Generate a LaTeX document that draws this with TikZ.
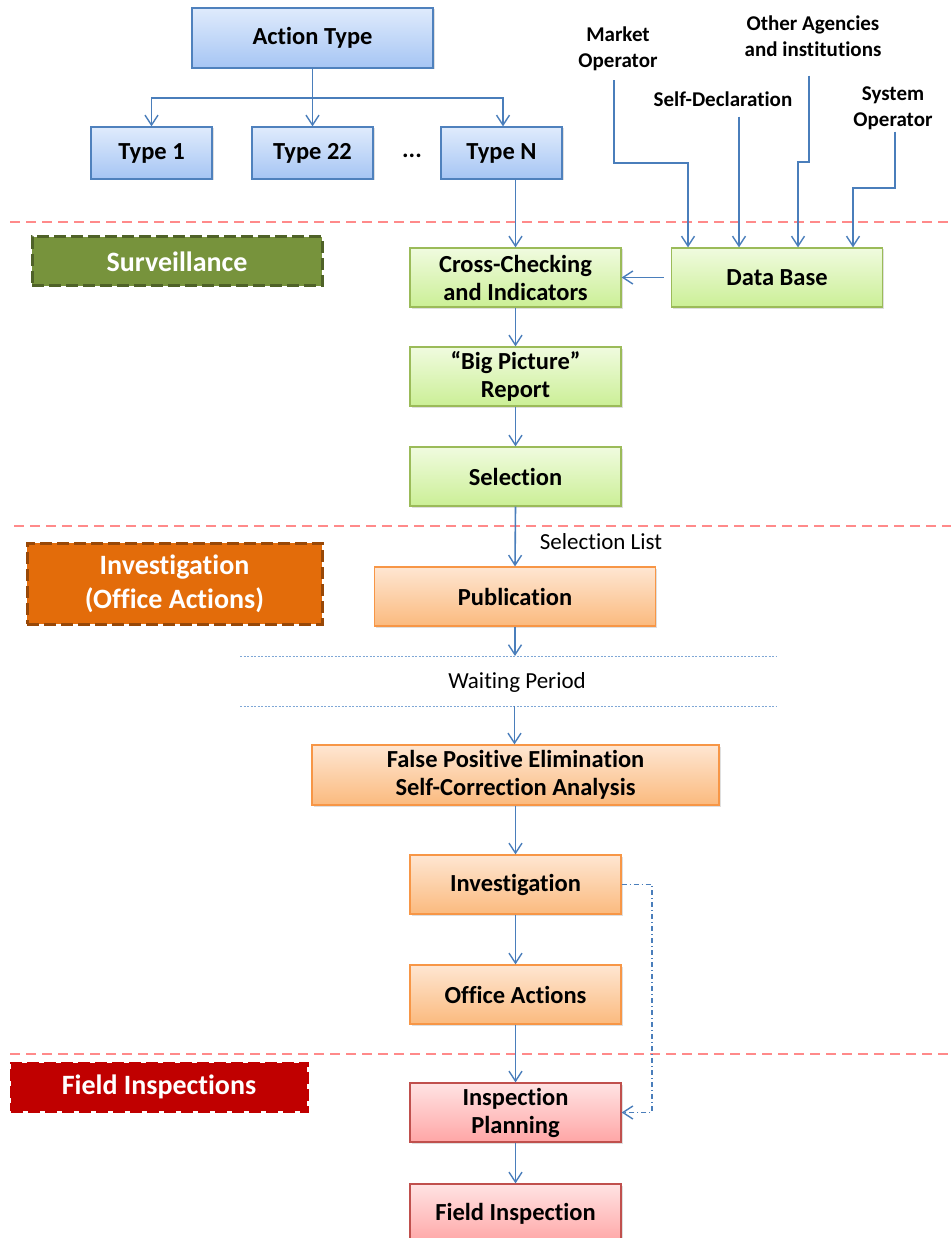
\documentclass[tikz,border=0pt]{standalone}
\usepackage{fontspec}
\setmainfont{Carlito}[Ligatures=NoCommon]
\usetikzlibrary{arrows.meta,shadows}

\definecolor{linkblue}{HTML}{4A7EBB}
\definecolor{sepred}{HTML}{FF8A8A}
\definecolor{waitline}{HTML}{7FA7D6}
\definecolor{blueTop}{HTML}{DFEBFC}
\definecolor{blueBot}{HTML}{A6C5F4}
\definecolor{blueEdge}{HTML}{4F81BD}
\definecolor{greenTop}{HTML}{F0FBDF}
\definecolor{greenBot}{HTML}{CBEF96}
\definecolor{greenEdge}{HTML}{9BBB59}
\definecolor{orangeTop}{HTML}{FEE6D2}
\definecolor{orangeBot}{HTML}{FBBA7E}
\definecolor{orangeEdge}{HTML}{F79646}
\definecolor{pinkTop}{HTML}{FFE3E3}
\definecolor{pinkBot}{HTML}{FFA6A6}
\definecolor{pinkEdge}{HTML}{C0504D}
\definecolor{survFill}{HTML}{77933C}
\definecolor{survEdge}{HTML}{4F6228}
\definecolor{invFill}{HTML}{E36C0A}
\definecolor{invEdge}{HTML}{984807}
\definecolor{fieldFill}{HTML}{C00000}

\tikzset{
  box/.style={draw, line width=1.2pt, align=center, inner sep=2pt,
    font=\fontsize{24.5}{28}\selectfont\bfseries,
    drop shadow={shadow xshift=1.5pt, shadow yshift=-1.5pt, opacity=0.25}},
  bluebox/.style={box, draw=blueEdge, top color=blueTop, bottom color=blueBot},
  greenbox/.style={box, draw=greenEdge, top color=greenTop, bottom color=greenBot,
    minimum width=211pt, minimum height=59pt},
  orangebox/.style={box, draw=orangeEdge, top color=orangeTop, bottom color=orangeBot,
    minimum height=59pt},
  pinkbox/.style={box, draw=pinkEdge, top color=pinkTop, bottom color=pinkBot,
    minimum width=211pt, minimum height=59pt},
  phase/.style={line width=3pt, dash pattern=on 12pt off 5pt, text=white,
    align=center, font=\fontsize{28}{34}\selectfont\bfseries},
  src/.style={align=center, inner sep=2pt, font=\fontsize{21}{26}\selectfont\bfseries},
  plain/.style={inner sep=2pt, font=\fontsize{23}{27}\selectfont},
  link/.style={draw=linkblue, line width=1.6pt,
    -{Straight Barb[length=10pt,width=13pt,line width=1.4pt]}},
  separator/.style={draw=sepred, line width=2pt, dash pattern=on 10pt off 6pt},
  waitrule/.style={draw=waitline, line width=1pt, dash pattern=on 2pt off 1.5pt}
}

\begin{document}
\begin{tikzpicture}[x=1pt, y=-1pt]
\useasboundingbox (0,0) rectangle (951,1238);

% phase separators
\draw[separator] (10,222) -- (951,222);
\draw[separator] (14,526) -- (951,526);
\draw[separator] (10,1054) -- (951,1054);

% phase labels
\node[phase, fill=survFill, draw=survEdge, minimum width=290pt, minimum height=49pt]
  (surv) at (177,261.5) {Surveillance};
\node[phase, fill=invFill, draw=invEdge, minimum width=295pt, minimum height=81pt]
  (invphase) at (174.5,583.5) {Investigation\\(Office Actions)};
\node[phase, fill=fieldFill, draw=fieldFill, minimum width=296pt, minimum height=48pt]
  (fieldphase) at (159,1087) {Field Inspections};

% action types
\node[bluebox, minimum width=241pt, minimum height=60pt] (action) at (312.5,38) {Action Type};
\node[bluebox, minimum width=121pt, minimum height=52pt] (t1) at (151.5,153) {Type 1};
\node[bluebox, minimum width=121pt, minimum height=52pt] (t22) at (312.5,153) {Type 22};
\node[font=\fontsize{24.5}{28}\selectfont\bfseries] (dots) at (412,156) {...};
\node[bluebox, minimum width=121pt, minimum height=52pt] (tn) at (501.5,153) {Type N};

\coordinate (split) at (312.5,98);
\draw[link] (action.south) -- (t22.north);
\draw[link, -] (action.south) -- (split);
\draw[link] (split) -| (t1.north);
\draw[link] (split) -| ([xshift=1.5pt]tn.north);

% data sources
\node[src] (mo) at (618,49) {Market\\Operator};
\node[src] (sd) at (723,99) {Self-Declaration};
\node[src] (oa) at (813,36) {Other Agencies\\and institutions};
\node[src] (so) at (893,108) {System\\Operator};

% surveillance chain
\node[greenbox] (db) at (777,277.5) {Data Base};
\node[greenbox] (cc) at (515.5,277.5) {Cross-Checking\\and Indicators};
\node[greenbox] (bp) at (515.5,376.5) {“Big Picture”\\Report};
\node[greenbox] (sel) at (515.5,476.5) {Selection};

\coordinate (mo-bend) at (688,163);
\coordinate (oa-bend) at (798,162);
\coordinate (so-bend) at (853,188);
\draw[link, shorten <=7pt] ([xshift=-4pt]mo.south) |- (mo-bend) -- (mo-bend |- db.north);
\draw[link, shorten <=8pt] ([xshift=16pt]sd.south) -- ([xshift=16pt]sd.south |- db.north);
\draw[link, shorten <=17pt] ([xshift=-4pt]oa.south) |- (oa-bend) -- (oa-bend |- db.north);
\draw[link] ([xshift=2pt]so.south) |- (so-bend) -- (so-bend |- db.north);

\draw[link] (tn.south -| cc.north) -- (cc.north);
\draw[link] ([xshift=-7pt]db.west) -- (cc.east);
\draw[link] (cc.south) -- (bp.north);
\draw[link] (bp.south) -- (sel.north);

% office actions
\node[plain] (sellist) at (601,542) {Selection List};
\node[orangebox, minimum width=281pt] (pub) at (515,596.5) {Publication};
\draw[link] (sel.south) -- (pub.north);

\coordinate (w1l) at (240,656);
\coordinate (w1r) at (776,656);
\coordinate (w2l) at (240,706);
\coordinate (w2r) at (776,706);
\draw[waitrule] (w1l) -- (w1r);
\draw[waitrule] (w2l) -- (w2r);
\node[plain] (wait) at (517,682) {Waiting Period};

\node[orangebox, minimum width=407pt, minimum height=60pt] (fp) at (515.5,775)
  {False Positive Elimination\\Self-Correction Analysis};
\node[orangebox, minimum width=211pt] (inv) at (515.5,884.5) {Investigation};
\node[orangebox, minimum width=211pt] (office) at (515.5,994.5) {Office Actions};

\draw[link] (pub.south) -- (pub.south |- w1l);
\draw[link] ([xshift=-1pt]fp.north |- w2l) -- ([xshift=-1pt]fp.north);
\draw[link] (fp.south) -- (inv.north);
\draw[link] (inv.south) -- (office.north);

% field inspections
\node[pinkbox] (plan) at (515.5,1112.5) {Inspection\\Planning};
\node[pinkbox] (field) at (515.5,1213.5) {Field Inspection};
\draw[link] (office.south) -- (plan.north);
\draw[link] (plan.south) -- (field.north);

\coordinate (bypass) at (652,884.5);
\draw[link, line width=1.1pt, dash pattern=on 5pt off 3pt on 1pt off 3pt]
  (inv.east) -- (bypass) |- (plan.east);
\end{tikzpicture}
\end{document}
